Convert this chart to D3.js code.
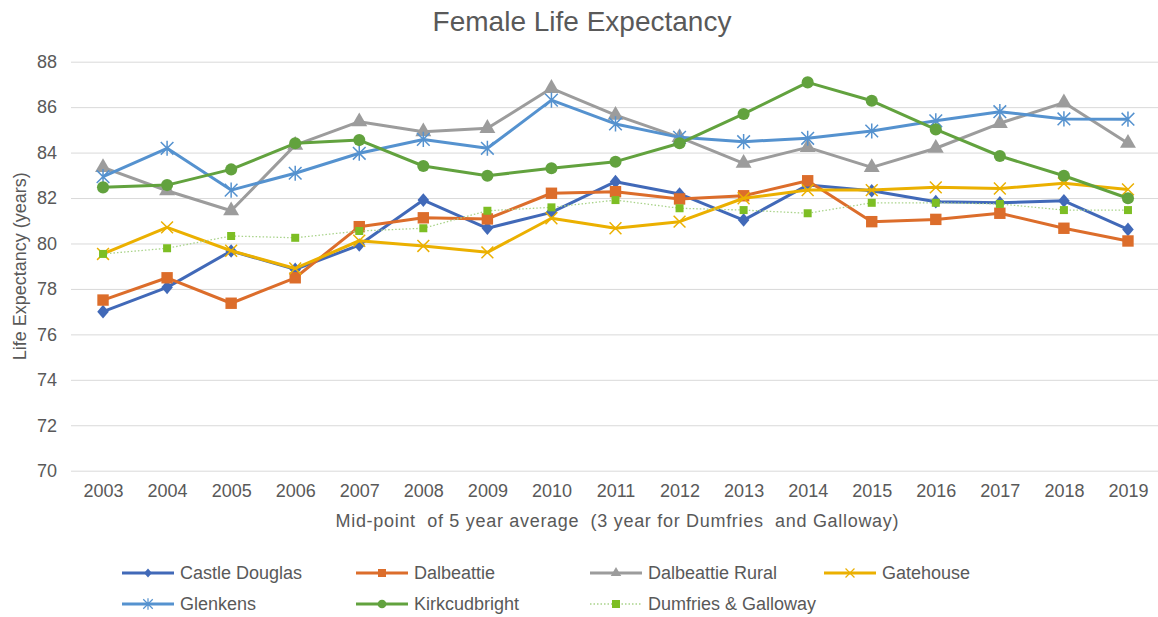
<!DOCTYPE html>
<html>
<head>
<meta charset="utf-8">
<script src="https://cdn.jsdelivr.net/npm/d3@7"></script>
<style>
  body { margin: 0; background: #fff; }
  text { font-family: "Liberation Sans", Arial, sans-serif; fill: #595959; }
</style>
</head>
<body>
<svg id="chart" width="1158" height="617"></svg>
<script>
//================================
// Data
var years = ["2003","2004","2005","2006","2007","2008","2009","2010","2011",
             "2012","2013","2014","2015","2016","2017","2018","2019"];
var yTicks = [70, 72, 74, 76, 78, 80, 82, 84, 86, 88];

var castleDouglas   = [77.0, 78.07, 79.67, 78.86, 79.93, 81.91, 80.67, 81.37, 82.72, 82.18, 81.03, 82.57, 82.32, 81.84, 81.79, 81.88, 80.62];
var dalbeattie      = [77.51, 78.49, 77.37, 78.49, 80.74, 81.13, 81.08, 82.21, 82.28, 81.96, 82.1, 82.76, 80.96, 81.06, 81.33, 80.67, 80.11];
var dalbeattieRural = [83.35, 82.32, 81.44, 84.33, 85.36, 84.92, 85.07, 86.83, 85.65, 84.67, 83.53, 84.23, 83.35, 84.19, 85.29, 86.2, 84.41];
var gatehouse       = [79.54, 80.71, 79.68, 78.9, 80.12, 79.89, 79.61, 81.11, 80.67, 80.96, 81.99, 82.35, 82.35, 82.47, 82.42, 82.65, 82.38];
var glenkens        = [82.94, 84.19, 82.35, 83.09, 83.97, 84.58, 84.19, 86.31, 85.26, 84.67, 84.48, 84.63, 84.95, 85.4, 85.8, 85.48, 85.47];
var kirkcudbright   = [82.47, 82.57, 83.26, 84.41, 84.55, 83.41, 82.98, 83.31, 83.6, 84.41, 85.7, 87.09, 86.28, 85.02, 83.85, 82.98, 81.99];
var dumfriesGalloway = [79.54, 79.79, 80.33, 80.25, 80.55, 80.67, 81.44, 81.59, 81.91, 81.55, 81.47, 81.33, 81.79, 81.79, 81.74, 81.47, 81.47];

//================================
// Custom marker shapes (diamond, x and asterisk)
var symDiamond = {
  draw: function(ctx, size) {
    var h = Math.sqrt(size) * 0.68, w = h * 0.85;
    ctx.moveTo(0, -h); ctx.lineTo(w, 0); ctx.lineTo(0, h); ctx.lineTo(-w, 0); ctx.closePath();
  }
};
var symX = {
  draw: function(ctx, size) {
    var r = Math.sqrt(size) / 2;
    ctx.moveTo(-r, -r); ctx.lineTo(r, r);
    ctx.moveTo(-r, r);  ctx.lineTo(r, -r);
  }
};
var symStar = {
  draw: function(ctx, size) {
    var r = Math.sqrt(size) / 2;
    ctx.moveTo(-r, -r); ctx.lineTo(r, r);
    ctx.moveTo(-r, r);  ctx.lineTo(r, -r);
    ctx.moveTo(0, -r * 1.2); ctx.lineTo(0, r * 1.2);
  }
};

var series = [
  { name: "Castle Douglas",      values: castleDouglas,   color: "#4169b8", sym: symDiamond,        size: 100, legSize: 45, fill: true,  width: 3 },
  { name: "Dalbeattie",          values: dalbeattie,      color: "#dc6d2b", sym: d3.symbolSquare,   size: 130, legSize: 64, fill: true,  width: 3 },
  { name: "Dalbeattie Rural",    values: dalbeattieRural, color: "#9c9c9c", sym: d3.symbolTriangle, size: 110, legSize: 48, fill: true,  width: 3 },
  { name: "Gatehouse",           values: gatehouse,       color: "#ebb000", sym: symX,              size: 140, legSize: 80, fill: false, width: 3 },
  { name: "Glenkens",            values: glenkens,        color: "#5592cf", sym: symStar,           size: 160, legSize: 90, fill: false, width: 3 },
  { name: "Kirkcudbright",       values: kirkcudbright,   color: "#62a23e", sym: d3.symbolCircle,   size: 115, legSize: 60, fill: true,  width: 3 },
  { name: "Dumfries & Galloway", values: dumfriesGalloway, color: "#a9d38a", mark: "#7dbe24", sym: d3.symbolSquare, size: 64, legSize: 64, fill: true, width: 1.3, dash: "1.5,2" }
];

//================================
// Scales and axes
var svg = d3.select('#chart');
var plotLeft = 71, plotRight = 1160, plotTop = 61.7, plotBottom = 470.7;

var x = d3.scalePoint().domain(years).range([plotLeft, plotRight]).padding(0.5);
var y = d3.scaleLinear().domain([70, 88]).range([plotBottom, plotTop]);

var yAxis = svg.append('g')
  .attr('transform', 'translate(' + plotLeft + ',0)')
  .call(d3.axisLeft(y).tickValues(yTicks).tickSize(-(plotRight - plotLeft)).tickPadding(14));
yAxis.select('.domain').remove();
yAxis.selectAll('.tick line').attr('stroke', '#d9d9d9').attr('stroke-width', 1);
yAxis.selectAll('.tick text').attr('font-size', 18).style('fill', '#595959')
  .attr('font-family', '"Liberation Sans", Arial, sans-serif');

var xAxis = svg.append('g')
  .attr('transform', 'translate(0,' + plotBottom + ')')
  .call(d3.axisBottom(x).tickSize(0).tickPadding(14));
xAxis.select('.domain').remove();
xAxis.selectAll('.tick text').attr('font-size', 18).style('fill', '#595959')
  .attr('font-family', '"Liberation Sans", Arial, sans-serif');

//================================
// Titles
svg.append('text').attr('x', 582).attr('y', 31).attr('text-anchor', 'middle')
  .attr('font-size', 28).text('Female Life Expectancy');

svg.append('text').attr('x', 617).attr('y', 527).attr('text-anchor', 'middle')
  .attr('font-size', 18).attr('xml:space', 'preserve')
  .attr('textLength', 563).attr('lengthAdjust', 'spacing')
  .text('Mid-point  of 5 year average  (3 year for Dumfries  and Galloway)');

svg.append('text')
  .attr('transform', 'translate(20,' + ((plotTop + plotBottom) / 2) + ') rotate(-90)')
  .attr('text-anchor', 'middle').attr('dominant-baseline', 'central')
  .attr('font-size', 18).text('Life Expectancy (years)');

//================================
// Lines and markers
var line = d3.line()
  .x(function(d, i) { return x(years[i]); })
  .y(function(d) { return y(d); });

series.forEach(function(s) {
  var g = svg.append('g');
  g.append('path')
    .attr('d', line(s.values))
    .attr('fill', 'none')
    .attr('stroke', s.color)
    .attr('stroke-width', s.width)
    .attr('stroke-linejoin', 'round')
    .attr('stroke-dasharray', s.dash || null);

  var mc = s.mark || s.color;
  g.selectAll('path.mk').data(s.values).enter().append('path')
    .attr('class', 'mk')
    .attr('transform', function(d, i) { return 'translate(' + x(years[i]) + ',' + y(d) + ')'; })
    .attr('d', d3.symbol().type(s.sym).size(s.size))
    .attr('fill', s.fill ? mc : 'none')
    .attr('stroke', mc)
    .attr('stroke-width', s.fill ? 0 : 1.5);
});

//================================
// Legend
var legX = [122, 356, 590, 824];
var legY = [573, 604];

series.forEach(function(s, i) {
  var lx = legX[i % 4], ly = legY[Math.floor(i / 4)];
  var g = svg.append('g').attr('transform', 'translate(' + lx + ',' + ly + ')');
  g.append('line').attr('x1', 0).attr('x2', 52).attr('y1', 0).attr('y2', 0)
    .attr('stroke', s.color).attr('stroke-width', s.width)
    .attr('stroke-dasharray', s.dash || null);
  var mc = s.mark || s.color;
  g.append('path').attr('transform', 'translate(26,0)')
    .attr('d', d3.symbol().type(s.sym).size(s.legSize))
    .attr('fill', s.fill ? mc : 'none')
    .attr('stroke', mc)
    .attr('stroke-width', s.fill ? 0 : 1.2);
  g.append('text').attr('x', 58).attr('y', 0).attr('dominant-baseline', 'central')
    .attr('font-size', 18).text(s.name);
});
</script>
</body>
</html>
